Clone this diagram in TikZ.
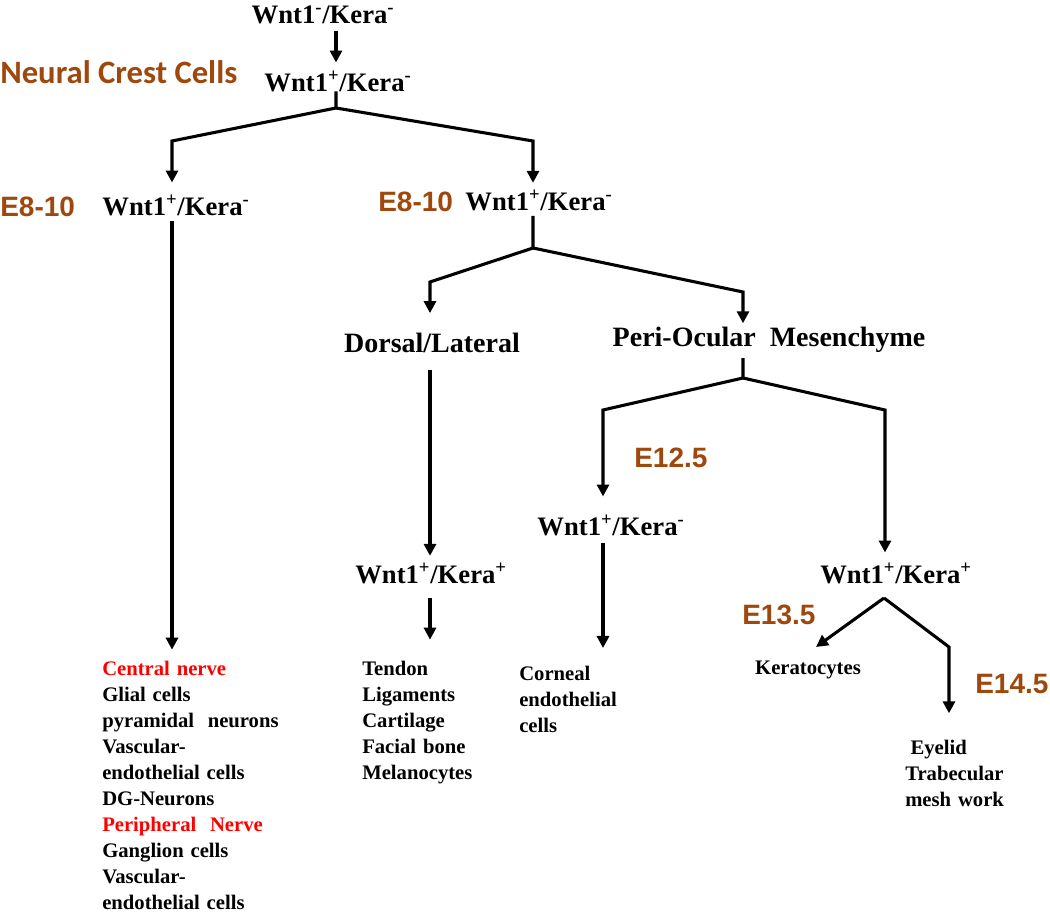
\documentclass[tikz,border=0pt]{standalone}
\usepackage{fontspec}
\setmainfont{Liberation Serif}
\newfontfamily\calibf{Carlito}
\newfontfamily\arialf{Liberation Sans}
\usetikzlibrary{arrows.meta}
\definecolor{brn}{RGB}{158,72,14}
\definecolor{rd}{RGB}{255,0,0}
\newcommand\WK[2]{Wnt1\textsuperscript{#1}/Kera\textsuperscript{#2}}
\newcommand\widesp{\spaceskip=0.33em plus 0.1em\relax}
\begin{document}
\begin{tikzpicture}[x=0.75pt,y=-0.75pt,
  lbl/.style={font=\bfseries\fontsize{20}{24}\selectfont, inner sep=0pt, outer sep=0pt},
  big/.style={font=\bfseries\fontsize{21}{25}\selectfont, inner sep=0pt, outer sep=0pt},
  stage/.style={font=\arialf\bfseries\fontsize{21}{24}\selectfont, text=brn, inner sep=0pt, anchor=west},
  lst/.style={font=\bfseries\fontsize{15.5}{19.5}\selectfont\widesp, align=left, inner sep=0pt, anchor=north west},
  ln/.style={line width=2.3pt},
  arr/.style={ln, -{Triangle[width=9pt,length=9pt]}},
]
\useasboundingbox (0,0) rectangle (1050,912);

% labels
\node[lbl] (n0) at (323,15) {\WK{-}{-}};
\node[font=\calibf\bfseries\fontsize{24.5}{28}\selectfont, text=brn, inner sep=0pt, anchor=west] (ncc) at (0,72) {Neural Crest Cells};
\node[lbl] (n1) at (338,81) {\WK{+}{-}};
\node[stage] (eL) at (0,207) {E8-10};
\node[lbl] (nL) at (176,205) {\WK{+}{-}};
\node[stage] (eM) at (378,202) {E8-10};
\node[lbl] (nM) at (539,200) {\WK{+}{-}};
\node[big] (nD) at (432,343) {Dorsal/Lateral};
\node[big] (nP) at (769,340) {Peri-Ocular\ \ Mesenchyme};
\node[stage] (e12) at (634,458) {E12.5};
\node[lbl] (nC) at (611,525) {\WK{+}{-}};
\node[lbl] (nDK) at (431,573) {\WK{+}{+}};
\node[lbl] (nR) at (896,573) {\WK{+}{+}};
\node[stage] (e13) at (742,615) {E13.5};
\node[stage] (e14) at (975,684) {E14.5};
\node[lst, anchor=center] (kera) at (808,670) {Keratocytes};

\node[lst] (leftlist) at (102,661) {{\color{rd}Central nerve}\\Glial cells\\pyramidal\ \ neurons\\Vascular-\\endothelial cells\\DG-Neurons\\{\color{rd}Peripheral\ \ Nerve}\\Ganglion cells\\Vascular-\\endothelial cells};
\node[lst] (tendon) at (362,661) {Tendon\\Ligaments\\Cartilage\\Facial bone\\Melanocytes};
\node[lst] (corneal) at (519,666) {Corneal\\endothelial\\cells};
\node[lst] (eye) at (905,740) {\hspace*{4pt}Eyelid\\Trabecular\\mesh work};

% junction coordinates
\coordinate (j1) at (336,108);
\coordinate (cL1) at (172,141);
\coordinate (cR1) at (533,141);
\coordinate (j2) at (533,248);
\coordinate (cL2) at (430,282);
\coordinate (cR2) at (743,292);
\coordinate (j3) at (743,378);
\coordinate (cL3) at (603,410);
\coordinate (cR3) at (885,410);
\coordinate (ap) at (884,598);
\coordinate (kt) at (816,647);
\coordinate (rc) at (949,647);

% connectors
\draw[arr, shorten <=5pt, shorten >=6pt] (n0.south -| j1) -- (n1.north -| j1);
\draw[arr, shorten >=9pt] (n1.south -| j1) -- (j1) -- (cL1) -- (nL.north -| cL1);
\draw[arr, shorten >=5pt] (j1) -- (cR1) -- (nM.north -| cR1);
\draw[arr, shorten <=4pt, shorten >=8.5pt] (nL.south -| cL1) -- (leftlist.north -| cL1);
\draw[arr, shorten <=4pt, shorten >=15pt] (nM.south -| j2) -- (j2) -- (cL2) -- (nD.north -| cL2);
\draw[arr, shorten >=3pt] (j2) -- (cR2) -- (nP.north -| cR2);
\draw[arr, shorten <=12.5pt, shorten >=5pt] (nD.south -| cL2) -- (nDK.north -| cL2);
\draw[arr, shorten <=11pt, shorten >=16pt] (nDK.south -| cL2) -- (tendon.north -| cL2);
\draw[arr, shorten <=4pt, shorten >=13.5pt] (nP.south -| j3) -- (j3) -- (cL3) -- (nC.north -| cL3);
\draw[arr, shorten >=7.5pt] (j3) -- (cR3) -- (nR.north -| cR3);
\draw[arr, shorten <=6pt, shorten >=13.5pt] (nC.south -| cL3) -- (corneal.north -| cL3);
\draw[arr] (ap) -- (kt);
\draw[arr, shorten >=20pt] (ap) -- (rc) -- (eye.north -| rc);
\end{tikzpicture}
\end{document}
